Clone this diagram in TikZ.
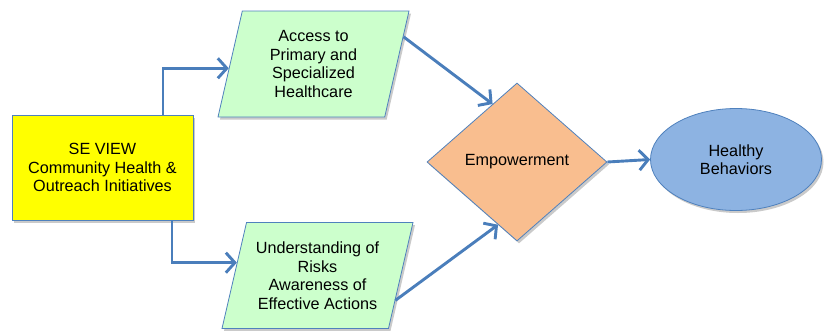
\documentclass[tikz,border=0pt]{standalone}
\usepackage{fontspec}
\setmainfont{Liberation Sans}
\usetikzlibrary{shapes.geometric,arrows.meta,shadows,calc}
\definecolor{edgeblue}{HTML}{4F81BD}
\definecolor{arrowblue}{HTML}{4A7EBB}
\definecolor{boxyellow}{HTML}{FFFF00}
\definecolor{paragreen}{HTML}{CCFFCC}
\definecolor{diaorange}{HTML}{F9BE8F}
\definecolor{ellblue}{HTML}{8DB3E2}
\begin{document}
\begin{tikzpicture}[x=1pt,y=-1pt,
  every node/.style={font=\fontsize{16.2}{18.5}\selectfont, align=center, inner sep=0pt},
  shadowed/.style={drop shadow={shadow xshift=2pt, shadow yshift=-2.5pt, opacity=0.35, fill=black!60}},
  basebox/.style={draw=edgeblue, line width=0.8pt, shadowed},
  yellowbox/.style={basebox, rectangle, fill=boxyellow, minimum width=181pt, minimum height=105pt},
  parabox/.style={basebox, trapezium, trapezium left angle=70, trapezium right angle=110,
    trapezium stretches body, fill=paragreen, minimum width=191pt, minimum height=106pt},
  diabox/.style={basebox, diamond, fill=diaorange, minimum width=180pt, minimum height=158pt},
  ellbox/.style={basebox, ellipse, fill=ellblue, minimum width=171pt, minimum height=102pt},
  conn/.style={draw=arrowblue, line width=2.9pt, -{Straight Barb[length=9pt,width=20pt,line width=2.9pt]}}
]
\useasboundingbox (0,0) rectangle (830,330);

\node[yellowbox] (box) at (102.5,167.5) {SE VIEW\\Community Health \&\\Outreach Initiatives};
\node[parabox] (acc) at (313.5,64) {Access to\\Primary and\\Specialized\\Healthcare};
\node[parabox] (und) at (317.5,275.5) {Understanding of\\Risks\\Awareness of\\Effective Actions};
\node[diabox] (emp) at (517,162) {Empowerment};
\node[ellbox] (hb) at (736,159.5) {Healthy\\Behaviors};

\coordinate (c1) at (163,0);
\coordinate (c2) at (172,0);

\draw[conn] (box.north -| c1) |- ($(acc.top left corner)!0.54!(acc.bottom left corner)$);
\draw[conn] (box.south -| c2) |- ($(und.top left corner)!0.38!(und.bottom left corner)$);
\draw[conn] ($(acc.top right corner)!0.245!(acc.bottom right corner)$) -- ($(emp.west)!0.73!(emp.north)$);
\draw[conn] ($(und.top right corner)!0.733!(und.bottom right corner)$) -- ($(emp.west)!0.79!(emp.south)$);
\draw[conn] (emp.east) -- (hb.west);
\end{tikzpicture}
\end{document}
